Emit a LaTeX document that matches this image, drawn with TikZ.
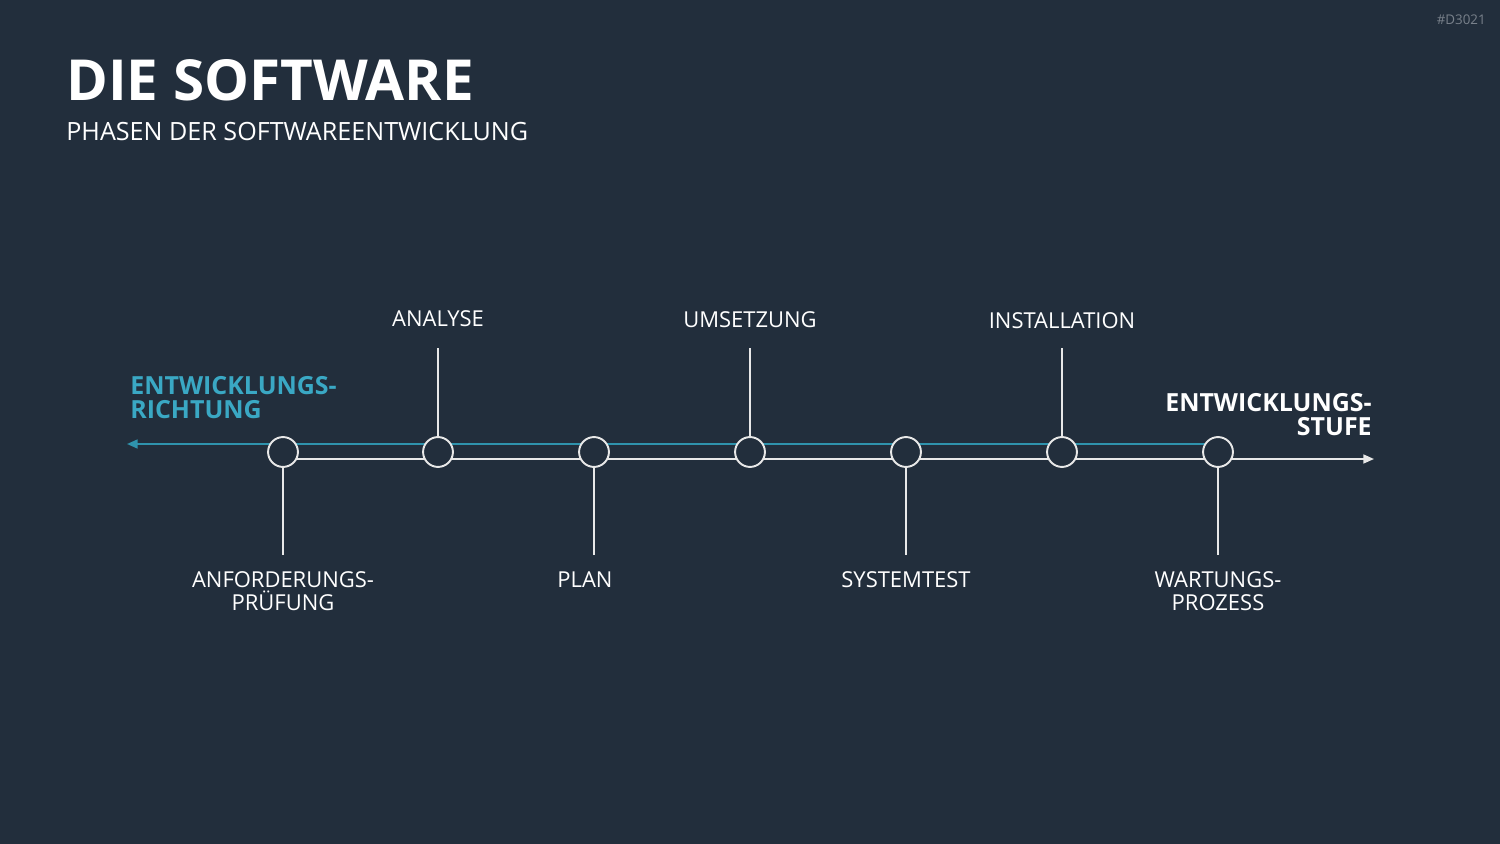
\documentclass[tikz,border=0pt]{standalone}
\usepackage{fontspec}
\setmainfont{Open Sans}
\usetikzlibrary{arrows.meta}
\definecolor{bg}{HTML}{222E3C}
\definecolor{teal}{HTML}{3AA8C4}
\definecolor{tealline}{HTML}{2F93AD}
\definecolor{linew}{HTML}{E8E8E8}
\definecolor{tagc}{HTML}{79818B}
\tikzset{
  lbl/.style={text=white,inner sep=0pt,font=\fontsize{12.5}{13}\selectfont,align=center},
  blbl/.style={inner sep=0pt,font=\bfseries\fontsize{14.2}{13.6}\selectfont},
  phase/.style={circle,draw=linew,line width=1.1pt,fill=bg,minimum size=17pt,inner sep=0pt},
  wline/.style={draw=linew,line width=1.1pt},
  tline/.style={draw=tealline,line width=1.1pt},
}
\begin{document}
\begin{tikzpicture}[x=0.02cm,y=-0.02cm]
\useasboundingbox[fill=bg] (0,0) rectangle (1500,844);
% header
\node[anchor=base west,inner sep=0pt,text=white,font=\bfseries\fontsize{32.2}{38}\selectfont] (title) at (66,101) {DIE SOFTWARE};
\node[anchor=base west,inner sep=0pt,text=white,font=\fontsize{14.3}{16}\selectfont] (sub) at (66,141) {PHASEN DER SOFTWAREENTWICKLUNG};
\node[anchor=base east,inner sep=0pt,text=tagc,font=\fontsize{7.6}{9}\selectfont] (tag) at (1486,25) {\#D3021};
% axis coordinates
\coordinate (w0) at (283,459);
\coordinate (wEnd) at (1374,459);
\coordinate (t0) at (1218,444);
\coordinate (tEnd) at (127,444);
\draw[wline,-{Triangle[length=6pt,width=5pt]}] (w0) -- (wEnd);
\draw[tline,-{Triangle[length=6pt,width=5pt]}] (t0) -- (tEnd);
% phase circles
\foreach \i/\x in {1/283,2/438,3/594,4/750,5/906,6/1062,7/1218}{
  \node[phase] (c\i) at (\x,452) {};
}
% tick ends
\coordinate (u2) at (438,348);
\coordinate (u4) at (750,348);
\coordinate (u6) at (1062,348);
\coordinate (d1) at (283,555);
\coordinate (d3) at (594,555);
\coordinate (d5) at (906,555);
\coordinate (d7) at (1218,555);
\draw[wline] (c2.north) -- (u2);
\draw[wline] (c4.north) -- (u4);
\draw[wline] (c6.north) -- (u6);
\draw[wline] (c1.south) -- (d1);
\draw[wline] (c3.south) -- (d3);
\draw[wline] (c5.south) -- (d5);
\draw[wline] (c7.south) -- (d7);
% labels top
\node[lbl,anchor=base] (l2) at (438,327) {ANALYSE};
\node[lbl,anchor=base] (l4) at (750,328) {UMSETZUNG};
\node[lbl,anchor=base] (l6) at (1062,329) {INSTALLATION};
% labels bottom
\node[lbl,anchor=base] (l1) at (283,610) {ANFORDERUNGS-\\PRÜFUNG};
\node[lbl,anchor=base] (l3) at (585,587) {PLAN};
\node[lbl,anchor=base] (l5) at (906,587) {SYSTEMTEST};
\node[lbl,anchor=base] (l7) at (1218,610) {WARTUNGS-\\PROZESS};
% direction labels
\node[blbl,text=teal,anchor=base west,align=left] (dirL) at (130,418) {ENTWICKLUNGS-\\RICHTUNG};
\node[blbl,text=white,anchor=base east,align=right] (dirR) at (1372,435) {ENTWICKLUNGS-\\STUFE};
\end{tikzpicture}
\end{document}
